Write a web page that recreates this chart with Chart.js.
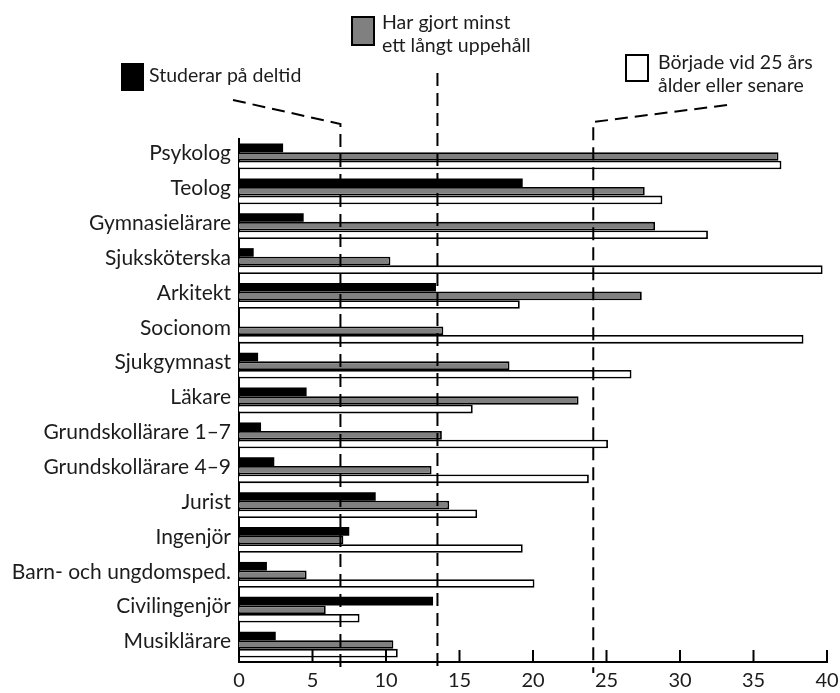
<!DOCTYPE html>
<html>
<head>
<meta charset="utf-8">
<script src="https://cdn.jsdelivr.net/npm/chart.js@4/dist/chart.umd.min.js"></script>
<style>
  html, body { margin: 0; padding: 0; background: #fff; }
  #wrap { width: 840px; height: 693px; position: relative; }
</style>
</head>
<body>
<div id="wrap"><canvas id="c" width="840" height="693"></canvas></div>
<script>
const categories = [
  "Psykolog", "Teolog", "Gymnasielärare", "Sjuksköterska", "Arkitekt",
  "Socionom", "Sjukgymnast", "Läkare", "Grundskollärare 1–7", "Grundskollärare 4–9",
  "Jurist", "Ingenjör", "Barn- och ungdomsped.", "Civilingenjör", "Musiklärare"
];
const deltid   = [3.0, 19.3, 4.4, 1.0, 13.4, 0, 1.3, 4.6, 1.5, 2.4, 9.3, 7.5, 1.9, 13.2, 2.5];
const uppehall = [36.7, 27.6, 28.3, 10.3, 27.4, 13.9, 18.4, 23.1, 13.8, 13.1, 14.3, 7.1, 4.6, 5.9, 10.5];
const senare   = [36.9, 28.8, 31.9, 39.7, 19.1, 38.4, 26.7, 15.9, 25.1, 23.8, 16.2, 19.3, 20.1, 8.2, 10.8];
const seriesNames = ["Studerar på deltid", "Har gjort minst ett långt uppehåll", "Började vid 25 års ålder eller senare"];
const averages = [6.9, 13.5, 24.1];
const xTicks = [0, 5, 10, 15, 20, 25, 30, 35, 40];

const FONT = "Lato, 'Open Sans', sans-serif";
const TEXT = "#1c1c1c";

const overlay = {
  id: 'overlay',
  afterDatasetsDraw(chart) {
    const ctx = chart.ctx;
    const x = chart.scales.x;
    const area = chart.chartArea;
    ctx.save();
    ctx.strokeStyle = '#000';
    ctx.lineWidth = 2;
    ctx.setLineDash([]);
    xTicks.forEach(v => {
      const px = x.getPixelForValue(v);
      ctx.beginPath();
      ctx.moveTo(px, area.bottom);
      ctx.lineTo(px, area.bottom - 12);
      ctx.stroke();
    });
    ctx.setLineDash([13, 7]);
    ctx.lineWidth = 2;
    const p0 = x.getPixelForValue(averages[0]);
    const p1 = x.getPixelForValue(averages[1]);
    const p2 = x.getPixelForValue(averages[2]);
    const bottom = area.bottom + 11;
    ctx.beginPath();
    ctx.moveTo(233, 100); ctx.lineTo(p0, 124); ctx.lineTo(p0, bottom);
    ctx.stroke();
    ctx.beginPath();
    ctx.moveTo(p1, 73); ctx.lineTo(p1, bottom);
    ctx.stroke();
    ctx.beginPath();
    ctx.moveTo(727, 105); ctx.lineTo(p2, 122); ctx.lineTo(p2, bottom);
    ctx.stroke();
    ctx.setLineDash([]);
    ctx.lineWidth = 2;
    ctx.fillStyle = '#000';
    ctx.fillRect(121, 63, 23, 28);
    ctx.fillStyle = '#808080';
    ctx.fillRect(352, 17, 22, 28);
    ctx.strokeRect(352, 17, 22, 28);
    ctx.fillStyle = '#fff';
    ctx.fillRect(626, 55, 22, 26);
    ctx.strokeRect(626, 55, 22, 26);
    ctx.fillStyle = TEXT;
    ctx.font = "19.5px " + FONT;
    ctx.textBaseline = 'middle';
    ctx.textAlign = 'left';
    ctx.fillText("Studerar på deltid", 149, 76);
    ctx.fillText("Har gjort minst", 382, 23);
    ctx.fillText("ett långt uppehåll", 382, 46);
    ctx.fillText("Började vid 25 års", 658, 63);
    ctx.fillText("ålder eller senare", 658, 86);
    ctx.restore();
  }
};

new Chart(document.getElementById('c'), {
  type: 'bar',
  data: {
    labels: categories,
    datasets: [
      { label: seriesNames[0], data: deltid, backgroundColor: '#000', borderColor: '#000', borderWidth: 0 },
      { label: seriesNames[1], data: uppehall, backgroundColor: '#808080', borderColor: '#000', borderWidth: 1.8 },
      { label: seriesNames[2], data: senare, backgroundColor: '#fff', borderColor: '#000', borderWidth: 1.8 }
    ]
  },
  options: {
    indexAxis: 'y',
    responsive: false,
    animation: false,
    devicePixelRatio: 1,
    categoryPercentage: 0.74,
    barPercentage: 1.0,
    layout: { padding: { top: 139, right: 13, left: 0, bottom: 0 } },
    plugins: { legend: { display: false }, tooltip: { enabled: false } },
    scales: {
      x: {
        min: 0, max: 40,
        ticks: { stepSize: 5, color: TEXT, font: { family: FONT, size: 20 }, padding: 7, maxRotation: 0 },
        grid: { display: false, drawTicks: false },
        border: { display: true, color: '#000', width: 2 },
        afterFit(scale) { scale.height = 31; scale.paddingRight = 0; scale.paddingLeft = 0; }
      },
      y: {
        ticks: { color: TEXT, font: { family: FONT, size: 21 }, padding: 8, labelOffset: -3, autoSkip: false },
        grid: { display: false, drawTicks: false },
        border: { display: true, color: '#000', width: 2 },
        afterFit(scale) { scale.width = 239; scale.paddingTop = 0; scale.paddingBottom = 0; }
      }
    }
  },
  plugins: [overlay]
});
</script>
</body>
</html>
